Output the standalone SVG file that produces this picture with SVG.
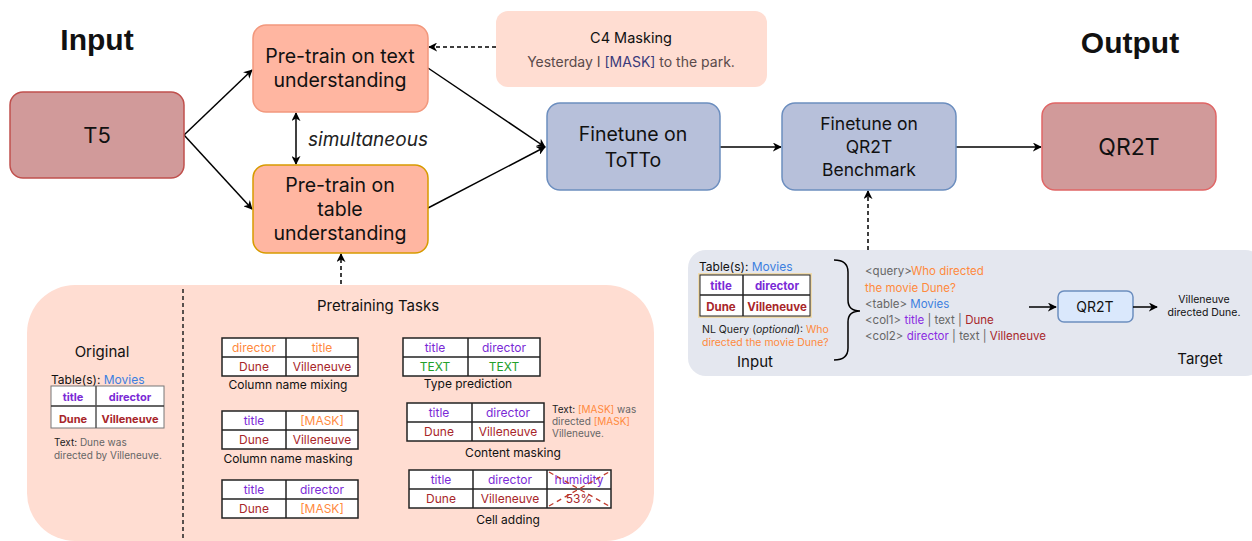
<svg xmlns="http://www.w3.org/2000/svg" width="1252" height="541" viewBox="0 0 1252 541">
<style>
text{font-family:Inter,"Open Sans",sans-serif;fill:#111}
.h{font-family:"Liberation Sans",Arial,sans-serif;font-weight:bold;font-size:30px}
.c{text-anchor:middle}
.big{font-size:19.5px}
.pur{fill:#7a2ad6}
.red{fill:#a8262a}
.org{fill:#ff8a3d}
.grn{fill:#22a02a}
.blu{fill:#3c7fe0}
.gry{fill:#666}
.tb{font-size:12px}
.cell{fill:#fff;stroke:#222;stroke-width:1.5}
.ln{stroke:#000;stroke-width:1.5;fill:none}
.ds{stroke:#000;stroke-width:1.5;fill:none;stroke-dasharray:4 3}
</style>
<defs>
<marker id="ar" viewBox="0 0 10 10" refX="9" refY="5" markerWidth="9" markerHeight="9" orient="auto-start-reverse" markerUnits="userSpaceOnUse">
<path d="M0,0 L10,5 L0,10 L3,5 z" fill="#000"/>
</marker>
</defs>

<text class="h c" x="97" y="50">Input</text>
<text class="h c" x="1130" y="53">Output</text>

<g id="connectors">
<line class="ln" x1="184" y1="135" x2="252" y2="70" marker-end="url(#ar)"/>
<line class="ln" x1="184" y1="135" x2="252" y2="209" marker-end="url(#ar)"/>
<line class="ln" x1="296" y1="113" x2="296" y2="164" marker-start="url(#ar)" marker-end="url(#ar)"/>
<line class="ln" x1="428" y1="68" x2="545" y2="147" marker-end="url(#ar)"/>
<line class="ln" x1="428" y1="208" x2="545" y2="147" marker-end="url(#ar)"/>
<line class="ln" x1="720" y1="147" x2="781" y2="147" marker-end="url(#ar)"/>
<line class="ln" x1="956" y1="147" x2="1041" y2="147" marker-end="url(#ar)"/>
<line class="ds" x1="496" y1="47" x2="429" y2="47" marker-end="url(#ar)"/>
<line class="ds" x1="341" y1="284" x2="341" y2="254" marker-end="url(#ar)"/>
<line class="ds" x1="868" y1="250" x2="868" y2="191" marker-end="url(#ar)"/>
<text x="308" y="146" style="font-size:19px;font-style:italic;fill:#222">simultaneous</text>
</g>

<g id="t5">
<rect x="10" y="92" width="174" height="86" rx="13" fill="#d19a9a" stroke="#c0504d" stroke-width="1.5"/>
<text class="c" x="97" y="143" style="font-size:22px">T5</text>
</g>

<g id="pretrain-text">
<rect x="253" y="25" width="175" height="87" rx="13" fill="#ffb6a1" stroke="#f2987d" stroke-width="1.5"/>
<text class="c big" x="340" y="63">Pre-train on text</text>
<text class="c big" x="340" y="87">understanding</text>
</g>

<g id="pretrain-table">
<rect x="253" y="165" width="175" height="88" rx="13" fill="#ffb6a1" stroke="#d79b00" stroke-width="1.5"/>
<text class="c big" x="340" y="192">Pre-train on</text>
<text class="c big" x="340" y="216">table</text>
<text class="c big" x="340" y="240">understanding</text>
</g>

<g id="c4">
<rect x="496" y="11" width="271" height="76" rx="12" fill="#ffddd2"/>
<text class="c" x="631" y="43" style="font-size:14.5px">C4 Masking</text>
<text class="c" x="631" y="67" style="font-size:14px;fill:#5a4a4a">Yesterday I <tspan style="fill:#3a3a7a">[MASK]</tspan> to the park.</text>
</g>

<g id="totto">
<rect x="547" y="103" width="173" height="87" rx="13" fill="#b7c0da" stroke="#6c8ebf" stroke-width="1.5"/>
<text class="c big" x="633" y="141">Finetune on</text>
<text class="c big" x="633" y="167">ToTTo</text>
</g>

<g id="finetune-qr2t">
<rect x="782" y="103" width="174" height="87" rx="13" fill="#b7c0da" stroke="#6c8ebf" stroke-width="1.5"/>
<text class="c" x="869" y="130" style="font-size:17.5px">Finetune on</text>
<text class="c" x="869" y="153" style="font-size:17.5px">QR2T</text>
<text class="c" x="869" y="176" style="font-size:17.5px">Benchmark</text>
</g>

<g id="qr2t-out">
<rect x="1042" y="103" width="174" height="87" rx="13" fill="#d19a9a" stroke="#e06666" stroke-width="1.5"/>
<text class="c" x="1129" y="155" style="font-size:23px">QR2T</text>
</g>

<g id="qr2t-example">
<rect x="688" y="250" width="575" height="126" rx="18" fill="#e4e7ef"/>
<text x="699" y="271" style="font-size:12px">Table(s): <tspan class="blu">Movies</tspan></text>
<rect x="699" y="274" width="112" height="43" fill="#fff" stroke="#f0dcae" stroke-width="2"/>
<line x1="700" y1="295" x2="810" y2="295" stroke="#222" stroke-width="1.5"/>
<line x1="743" y1="275" x2="743" y2="316" stroke="#222" stroke-width="1.5"/>
<rect x="700" y="275" width="110" height="41" fill="none" stroke="#222" stroke-width="1"/>
<text class="c pur" x="721" y="290" style="font-size:11.5px;font-weight:bold">title</text>
<text class="c pur" x="777" y="290" style="font-size:11.5px;font-weight:bold">director</text>
<text class="c red" x="721" y="311" style="font-size:11.5px;font-weight:bold">Dune</text>
<text class="c red" x="777" y="311" style="font-size:11.5px;font-weight:bold">Villeneuve</text>
<text x="702" y="333" style="font-size:10.5px;fill:#222">NL Query (<tspan font-style="italic">optional</tspan>): <tspan class="org">Who</tspan></text>
<text class="org" x="702" y="346" style="font-size:10.5px">directed the movie Dune?</text>
<text class="c" x="755" y="367" style="font-size:15px">Input</text>
<path class="ln" d="M834,260 Q848,260 848,272 L848,300 Q848,311 860,311 Q848,311 848,322 L848,348 Q848,360 834,360"/>
<text x="865" y="275" style="font-size:11.5px"><tspan class="gry">&lt;query&gt;</tspan><tspan class="org">Who directed</tspan></text>
<text class="org" x="865" y="292" style="font-size:11.5px">the movie Dune?</text>
<text x="865" y="308" style="font-size:11.5px"><tspan class="gry">&lt;table&gt; </tspan><tspan class="blu">Movies</tspan></text>
<text x="865" y="324" style="font-size:11.5px"><tspan class="gry">&lt;col1&gt; </tspan><tspan style="fill:#8a2be2">title</tspan><tspan class="gry"> | text | </tspan><tspan class="red">Dune</tspan></text>
<text x="865" y="340" style="font-size:11.5px"><tspan class="gry">&lt;col2&gt; </tspan><tspan style="fill:#8a2be2">director</tspan><tspan class="gry"> | text | </tspan><tspan class="red">Villeneuve</tspan></text>
<line class="ln" x1="1029" y1="307" x2="1056" y2="307" marker-end="url(#ar)"/>
<rect x="1058" y="291" width="75" height="31" rx="6" fill="#dae8fc" stroke="#6c8ebf" stroke-width="1.5"/>
<text class="c" x="1095" y="312" style="font-size:14px">QR2T</text>
<line class="ln" x1="1133" y1="307" x2="1157" y2="307" marker-end="url(#ar)"/>
<text class="c" x="1204" y="303" style="font-size:10.5px">Villeneuve</text>
<text class="c" x="1204" y="316" style="font-size:10.5px">directed Dune.</text>
<text class="c" x="1200" y="364" style="font-size:15px">Target</text>
</g>

<g id="pretraining-panel">
<rect x="27" y="285" width="627" height="256" rx="48" fill="#ffddd2"/>
<line x1="183" y1="289" x2="183" y2="541" stroke="#222" stroke-width="1.5" stroke-dasharray="4 3"/>
</g>

<g id="original">
<text class="c" x="102" y="357" style="font-size:15px">Original</text>
<text x="51" y="384" style="font-size:12px">Table(s): <tspan class="blu">Movies</tspan></text>
<rect x="51" y="386" width="113" height="42" fill="#fff" stroke="#777" stroke-width="1"/>
<line x1="51" y1="406" x2="164" y2="406" stroke="#333" stroke-width="1.5"/>
<line x1="96" y1="386" x2="96" y2="428" stroke="#555" stroke-width="1.5"/>
<text class="c pur" x="73" y="401" style="font-size:11px;font-weight:bold">title</text>
<text class="c pur" x="130" y="401" style="font-size:11px;font-weight:bold">director</text>
<text class="c red" x="73" y="423" style="font-size:11px;font-weight:bold">Dune</text>
<text class="c red" x="130" y="423" style="font-size:11px;font-weight:bold">Villeneuve</text>
<text x="54" y="446" style="font-size:10px;fill:#222">Text: <tspan class="gry">Dune was</tspan></text>
<text class="gry" x="54" y="459" style="font-size:10px">directed by Villeneuve.</text>
</g>

<g id="pretraining-tasks">
<text class="c" x="378" y="311" style="font-size:15px">Pretraining Tasks</text>
</g>

<g id="col-mixing">
<rect class="cell" x="222" y="338" width="136" height="38"/>
<line class="cell" x1="222" y1="357" x2="358" y2="357"/>
<line class="cell" x1="286" y1="338" x2="286" y2="376"/>
<text class="c org tb" x="254" y="352">director</text>
<text class="c org tb" x="322" y="352">title</text>
<text class="c red tb" x="254" y="371">Dune</text>
<text class="c red tb" x="322" y="371">Villeneuve</text>
<text class="c" x="288" y="389" style="font-size:12px">Column name mixing</text>
</g>

<g id="col-masking">
<rect class="cell" x="222" y="411" width="136" height="38"/>
<line class="cell" x1="222" y1="430" x2="358" y2="430"/>
<line class="cell" x1="286" y1="411" x2="286" y2="449"/>
<text class="c pur tb" x="254" y="425">title</text>
<text class="c org tb" x="322" y="425">[MASK]</text>
<text class="c red tb" x="254" y="444">Dune</text>
<text class="c red tb" x="322" y="444">Villeneuve</text>
<text class="c" x="288" y="463" style="font-size:12px">Column name masking</text>
</g>

<g id="value-masking">
<rect class="cell" x="222" y="480" width="136" height="38"/>
<line class="cell" x1="222" y1="499" x2="358" y2="499"/>
<line class="cell" x1="286" y1="480" x2="286" y2="518"/>
<text class="c pur tb" x="254" y="494">title</text>
<text class="c pur tb" x="322" y="494">director</text>
<text class="c red tb" x="254" y="513">Dune</text>
<text class="c org tb" x="322" y="513">[MASK]</text>
</g>

<g id="type-prediction">
<rect class="cell" x="403" y="338" width="137" height="38"/>
<line class="cell" x1="403" y1="357" x2="540" y2="357"/>
<line class="cell" x1="468" y1="338" x2="468" y2="376"/>
<text class="c pur tb" x="435" y="352">title</text>
<text class="c pur tb" x="504" y="352">director</text>
<text class="c grn tb" x="435" y="371">TEXT</text>
<text class="c grn tb" x="504" y="371">TEXT</text>
<text class="c" x="468" y="388" style="font-size:12px">Type prediction</text>
</g>

<g id="content-masking">
<rect class="cell" x="407" y="403" width="137" height="38"/>
<line class="cell" x1="407" y1="422" x2="544" y2="422"/>
<line class="cell" x1="472" y1="403" x2="472" y2="441"/>
<text class="c pur tb" x="439" y="417">title</text>
<text class="c pur tb" x="508" y="417">director</text>
<text class="c red tb" x="439" y="436">Dune</text>
<text class="c red tb" x="508" y="436">Villeneuve</text>
<text x="552" y="413" style="font-size:10px;fill:#222">Text: <tspan class="org">[MASK]</tspan><tspan class="gry"> was</tspan></text>
<text x="552" y="425" style="font-size:10px"><tspan class="gry">directed </tspan><tspan class="org">[MASK]</tspan></text>
<text class="gry" x="552" y="437" style="font-size:10px">Villeneuve.</text>
<text class="c" x="513" y="457" style="font-size:12px">Content masking</text>
</g>

<g id="cell-adding">
<rect class="cell" x="409" y="470" width="202" height="38"/>
<line class="cell" x1="409" y1="489" x2="611" y2="489"/>
<line class="cell" x1="473" y1="470" x2="473" y2="508"/>
<line class="cell" x1="547" y1="470" x2="547" y2="508"/>
<text class="c pur tb" x="441" y="484">title</text>
<text class="c pur tb" x="510" y="484">director</text>
<text class="c pur tb" x="579" y="484">humidity</text>
<text class="c red tb" x="441" y="503">Dune</text>
<text class="c red tb" x="510" y="503">Villeneuve</text>
<text class="c red tb" x="579" y="503">53%</text>
<line x1="549" y1="506" x2="609" y2="472" stroke="#c0392b" stroke-width="1.3" stroke-dasharray="5 4"/>
<line x1="549" y1="472" x2="609" y2="506" stroke="#c0392b" stroke-width="1.3" stroke-dasharray="5 4"/>
<text class="c" x="508" y="524" style="font-size:12px">Cell adding</text>
</g>
</svg>
